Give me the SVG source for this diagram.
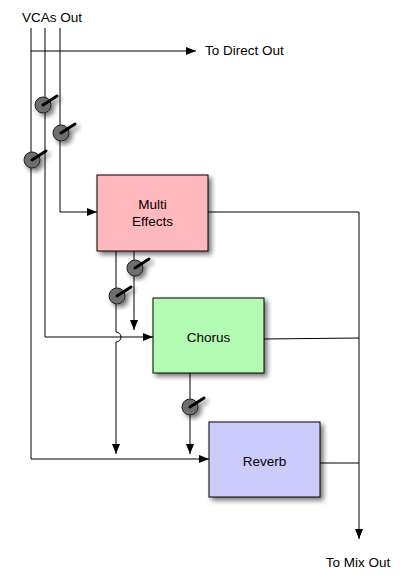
<svg xmlns="http://www.w3.org/2000/svg" width="408" height="579" viewBox="0 0 408 579">
<style>
.ln{fill:none;stroke:#000;stroke-width:1}
.t{font-family:"Liberation Sans",Arial,sans-serif;font-size:13.5px;fill:#000}
.box{stroke:#000;stroke-width:1}
.knob{fill:#6e6e6e;stroke:#222;stroke-width:1}
.hd{stroke:#000;stroke-width:3;stroke-linecap:round}
</style>
<defs>
<marker id="ar" viewBox="0 0 10 10" refX="10" refY="5" markerWidth="10" markerHeight="10" markerUnits="userSpaceOnUse" orient="auto">
<path d="M0,1 L10,5 L0,9 Z" fill="#000"/>
</marker>
<filter id="sh" x="-20%" y="-20%" width="150%" height="150%">
<feGaussianBlur in="SourceAlpha" stdDeviation="2.5"/>
<feOffset dx="3" dy="3" result="b"/>
<feComponentTransfer><feFuncA type="linear" slope="0.55"/></feComponentTransfer>
<feMerge><feMergeNode/><feMergeNode in="SourceGraphic"/></feMerge>
</filter>
</defs>
<rect width="408" height="579" fill="#fff"/>
<text class="t" x="52" y="22" text-anchor="middle">VCAs Out</text>
<text class="t" x="205" y="55">To Direct Out</text>
<text class="t" x="358" y="567" text-anchor="middle">To Mix Out</text>
<g id="connectors">
<line class="ln" x1="31" y1="28" x2="31" y2="459"/>
<line class="ln" x1="45" y1="28" x2="45" y2="337"/>
<line class="ln" x1="60" y1="28" x2="60" y2="212"/>
<line class="ln" x1="31" y1="51" x2="196" y2="51" marker-end="url(#ar)"/>
<line class="ln" x1="60" y1="212" x2="97" y2="212" marker-end="url(#ar)"/>
<line class="ln" x1="45" y1="337" x2="153" y2="337" marker-end="url(#ar)"/>
<line class="ln" x1="31" y1="459" x2="209" y2="459" marker-end="url(#ar)"/>
<line class="ln" x1="134" y1="251" x2="134" y2="330" marker-end="url(#ar)"/>
<path class="ln" d="M116,251 V332 A5,5 0 0 1 116,342 V454" marker-end="url(#ar)"/>
<line class="ln" x1="190" y1="373" x2="190" y2="454" marker-end="url(#ar)"/>
<line class="ln" x1="208" y1="212" x2="359" y2="212"/>
<line class="ln" x1="264" y1="339" x2="359" y2="338"/>
<line class="ln" x1="320" y1="463" x2="359" y2="463"/>
<line class="ln" x1="359" y1="212" x2="359" y2="539" marker-end="url(#ar)"/>
</g>
<g id="knob1" filter="url(#sh)"><circle class="knob" cx="43" cy="105" r="8"/><line class="hd" x1="43" y1="105" x2="57" y2="96"/></g>
<g id="knob2" filter="url(#sh)"><circle class="knob" cx="61" cy="133" r="8"/><line class="hd" x1="61" y1="133" x2="75" y2="124"/></g>
<g id="knob3" filter="url(#sh)"><circle class="knob" cx="32" cy="160" r="8"/><line class="hd" x1="32" y1="160" x2="46" y2="151"/></g>
<g id="knob4" filter="url(#sh)"><circle class="knob" cx="135" cy="268" r="8"/><line class="hd" x1="135" y1="268" x2="149" y2="259"/></g>
<g id="knob5" filter="url(#sh)"><circle class="knob" cx="117" cy="296" r="8"/><line class="hd" x1="117" y1="296" x2="131" y2="287"/></g>
<g id="knob6" filter="url(#sh)"><circle class="knob" cx="190" cy="407" r="8"/><line class="hd" x1="190" y1="407" x2="204" y2="398"/></g>
<g id="multi-effects">
<rect class="box" x="97" y="175" width="111" height="76" fill="#ffb8be" filter="url(#sh)"/>
<text class="t" x="152.5" y="209" text-anchor="middle">Multi</text>
<text class="t" x="152.5" y="226" text-anchor="middle">Effects</text>
</g>
<g id="chorus">
<rect class="box" x="153" y="298" width="111" height="75" fill="#b3fbb3" filter="url(#sh)"/>
<text class="t" x="208.5" y="342" text-anchor="middle">Chorus</text>
</g>
<g id="reverb">
<rect class="box" x="209" y="422" width="111" height="75" fill="#ccccfc" filter="url(#sh)"/>
<text class="t" x="264.5" y="466" text-anchor="middle">Reverb</text>
</g>
</svg>
